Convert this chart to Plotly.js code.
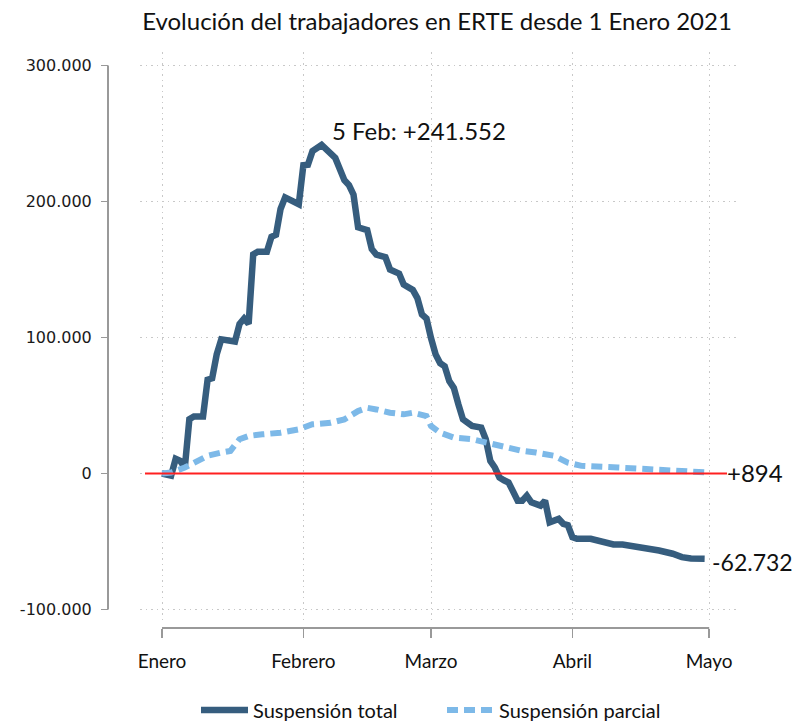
<!DOCTYPE html>
<html>
<head>
<meta charset="utf-8">
<script src="https://cdn.plot.ly/plotly-3.0.1.min.js"></script>
<style>html,body{margin:0;padding:0;background:#fff;}#chart{width:799px;height:721px;}</style>
</head>
<body>
<div id="chart"></div>
<script>
// ---- Data ----
const fechasTotal = [
  '2021-01-01','2021-01-02','2021-01-03','2021-01-04','2021-01-05','2021-01-06','2021-01-07','2021-01-08','2021-01-10','2021-01-11','2021-01-12','2021-01-13','2021-01-14','2021-01-17','2021-01-18','2021-01-19','2021-01-20','2021-01-21','2021-01-22','2021-01-24','2021-01-25','2021-01-26','2021-01-27','2021-01-28','2021-01-29','2021-01-31',
  '2021-02-01','2021-02-02','2021-02-03','2021-02-04','2021-02-05','2021-02-08','2021-02-10','2021-02-11','2021-02-12','2021-02-13','2021-02-15','2021-02-16','2021-02-17','2021-02-19','2021-02-20','2021-02-22','2021-02-23','2021-02-25','2021-02-26','2021-02-27','2021-02-28',
  '2021-03-01','2021-03-02','2021-03-03','2021-03-04','2021-03-05','2021-03-06','2021-03-07','2021-03-08','2021-03-10','2021-03-11','2021-03-12','2021-03-13','2021-03-14','2021-03-15','2021-03-16','2021-03-17','2021-03-18','2021-03-20','2021-03-21','2021-03-22','2021-03-23','2021-03-25','2021-03-26','2021-03-27','2021-03-29','2021-03-30','2021-03-31',
  '2021-04-01','2021-04-02','2021-04-05','2021-04-08','2021-04-10','2021-04-12','2021-04-15','2021-04-17','2021-04-20','2021-04-23','2021-04-25','2021-04-27','2021-04-30'
];
const valoresTotal = [
  0,-1000,-1500,10800,9300,4200,40000,42000,42000,69000,70000,87600,98600,97000,110000,114000,110000,161000,163000,163000,174000,175500,194500,203000,201000,198000,
  226700,227000,237000,239000,241552,232000,215700,212000,205000,181000,179000,165000,161000,159000,150000,147000,139000,135000,129000,117000,114000,
  99500,87600,81000,78800,67900,63000,50800,39800,35000,34000,33700,25200,9300,4400,-2900,-5000,-6600,-20000,-20000,-16300,-21200,-23600,-20000,-35900,-33400,-37000,-38000,
  -46800,-48000,-48000,-50500,-52200,-52200,-53700,-55300,-56600,-59000,-61500,-62500,-62732
];
const fechasParcial = [
  '2021-01-01','2021-01-03','2021-01-06','2021-01-08','2021-01-11','2021-01-14','2021-01-16','2021-01-18','2021-01-20','2021-01-23','2021-01-27','2021-01-31',
  '2021-02-03','2021-02-07','2021-02-10','2021-02-13','2021-02-15','2021-02-17','2021-02-20','2021-02-23','2021-02-25','2021-02-28',
  '2021-03-01','2021-03-03','2021-03-06','2021-03-10','2021-03-13','2021-03-17','2021-03-21','2021-03-24','2021-03-28','2021-03-31',
  '2021-04-03','2021-04-11','2021-04-17','2021-04-22','2021-04-27','2021-04-30'
];
const valoresParcial = [
  0,700,4400,8000,13000,15400,16600,25200,27600,28800,30000,32500,
  36200,37300,39800,45900,48300,47100,44700,43500,44700,42200,
  34900,30000,26400,25200,22700,20300,16600,15400,13000,8000,
  5600,4400,3200,2500,1500,894
];
const mesesTicks = ['2021-01-01','2021-02-01','2021-03-01','2021-04-01','2021-05-01'];
const mesesLabels = ['Enero','Febrero','Marzo','Abril','Mayo'];
const yTickVals = [-100000,0,100000,200000,300000];
const yTickText = ['-100.000','0','100.000','200.000','300.000'];
const etiquetaPico = '5 Feb';
const serieNombres = ['Suspensión total','Suspensión parcial'];
const titulo = 'Evolución del trabajadores en ERTE desde 1 Enero 2021';

// ---- helpers ----
function fmt(n){ const s = Math.abs(n).toString().replace(/\B(?=(\d{3})+(?!\d))/g,'.'); return (n<0?'-':'+')+s; }

const W = 799, H = 721;
const clamp = v => Math.max(0, Math.min(1, v));

// scale geometry (pixel targets)
const yPerPx = 1000/1.36, y0px = 473.5;
const yTop = (y0px-52)*yPerPx, yBot = -(622-y0px)*yPerPx;
// x scale: 1 Jan at px 162, 4.56 px per day (used only for the extent of the reference line)
const dayMs = 86400000, jan1 = Date.UTC(2021,0,1);
const pxToDate = p => new Date(jan1 + (p-162)/4.56*dayMs).toISOString().replace('T',' ').slice(0,19);

let iMax = 0; valoresTotal.forEach((v,i)=>{ if(v>valoresTotal[iMax]) iMax=i; });
const nT = valoresTotal.length-1, nP = valoresParcial.length-1;

const colTotal = '#365d7e', colParcial = '#7db9e8';
const fontTxt = 'Lato, "Open Sans", sans-serif';
const gridStyle = {showgrid:true, gridcolor:'#c8c8c8', gridwidth:1, griddash:'1.5px,4px'};

const traces = [
  {x: fechasTotal, y: valoresTotal, type:'scatter', mode:'lines', name: serieNombres[0],
   line:{color:colTotal, width:6.5, shape:'linear'}},
  {x: fechasParcial, y: valoresParcial, type:'scatter', mode:'lines', name: serieNombres[1],
   line:{color:colParcial, width:6, dash:'11px,6px', shape:'linear'}}
];

function makeLayout(sz){
  const fx = p => clamp((p - sz.l)/sz.w);
  const fy = p => clamp(1 - (p - sz.t)/sz.h);
  return {
    width: W, height: H,
    margin:{l:0,r:0,t:0,b:0},
    paper_bgcolor:'#fff', plot_bgcolor:'#fff',
    separators: ',.',
    title:{text: titulo, x: 437/W, xanchor:'center', xref:'container', y: 1-22/H, yref:'container', yanchor:'middle',
           font:{family: fontTxt, size:24, color:'#111'}},
    showlegend:true,
    legend:{orientation:'h', xref:'container', yref:'container', x: 442/W, xanchor:'center', y: 1-710/H, yanchor:'middle',
            font:{family: fontTxt, size:20, color:'#111'}, itemwidth:47, entrywidth:184, traceorder:'normal'},
    xaxis:Object.assign({type:'date', domain:[fx(140), fx(740)], anchor:'free', position: fy(628),
           range:['2020-12-27 04:12','2021-05-07 18:06'],
           tickvals: mesesTicks, ticktext: mesesLabels,
           ticks:'outside', ticklen:9, tickwidth:1.5, tickcolor:'#999',
           showline:false, zeroline:false, automargin:false,
           tickfont:{family: fontTxt, size:19, color:'#111'}, ticklabelstandoff:7}, gridStyle),
    yaxis:Object.assign({domain:[fy(622), fy(52)], anchor:'free', position: fx(108),
           range:[yBot, yTop],
           tickvals: yTickVals, ticktext: yTickText,
           ticks:'outside', ticklen:7, tickwidth:1.5, tickcolor:'#999',
           showline:false, zeroline:false, automargin:false,
           tickfont:{family:'"DejaVu Sans", sans-serif', size:16, color:'#1a1a1a'}, ticklabelstandoff:6}, gridStyle),
    shapes:[
      {type:'line', xref:'x', x0: pxToDate(145), x1: pxToDate(727), yref:'y', y0: 0, y1: 0, layer:'above',
       line:{color:'#ff2020', width:2}},
      {type:'line', xref:'paper', x0: fx(108), x1: fx(108), yref:'y', y0: yTickVals[0], y1: yTickVals[yTickVals.length-1],
       line:{color:'#999', width:2}},
      {type:'line', xref:'x', x0: mesesTicks[0], x1: mesesTicks[mesesTicks.length-1], yref:'paper', y0: fy(628), y1: fy(628),
       line:{color:'#999', width:2}}
    ],
    annotations:[
      {x: fechasTotal[iMax], y: valoresTotal[iMax], xref:'x', yref:'y', text: etiquetaPico+': '+fmt(valoresTotal[iMax]),
       showarrow:false, xanchor:'left', yanchor:'middle', xshift:8, yshift:14, font:{family:fontTxt, size:24, color:'#111'}},
      {x: fechasParcial[nP], y: valoresParcial[nP], xref:'x', yref:'y', text: fmt(valoresParcial[nP]),
       showarrow:false, xanchor:'left', yanchor:'middle', xshift:20, yshift:0, font:{family:fontTxt, size:24, color:'#111'}},
      {x: fechasTotal[nT], y: valoresTotal[nT], xref:'x', yref:'y', text: fmt(valoresTotal[nT]),
       showarrow:false, xanchor:'left', yanchor:'middle', xshift:5, yshift:-3, font:{family:fontTxt, size:23, color:'#111'}}
    ]
  };
}

const gd = document.getElementById('chart');
const cfg = {displayModeBar:false, staticPlot:true};
Plotly.newPlot(gd, traces, makeLayout({l:0,t:0,w:W,h:H}), cfg).then(function(){
  // re-fit the domains to the real plotting area, in case anything pushed the margins
  for(let k=0;k<3;k++){
    const s = gd._fullLayout._size;
    Plotly.react(gd, traces, makeLayout({l:s.l, t:s.t, w:s.w, h:s.h}), cfg);
  }
});
</script>
</body>
</html>
